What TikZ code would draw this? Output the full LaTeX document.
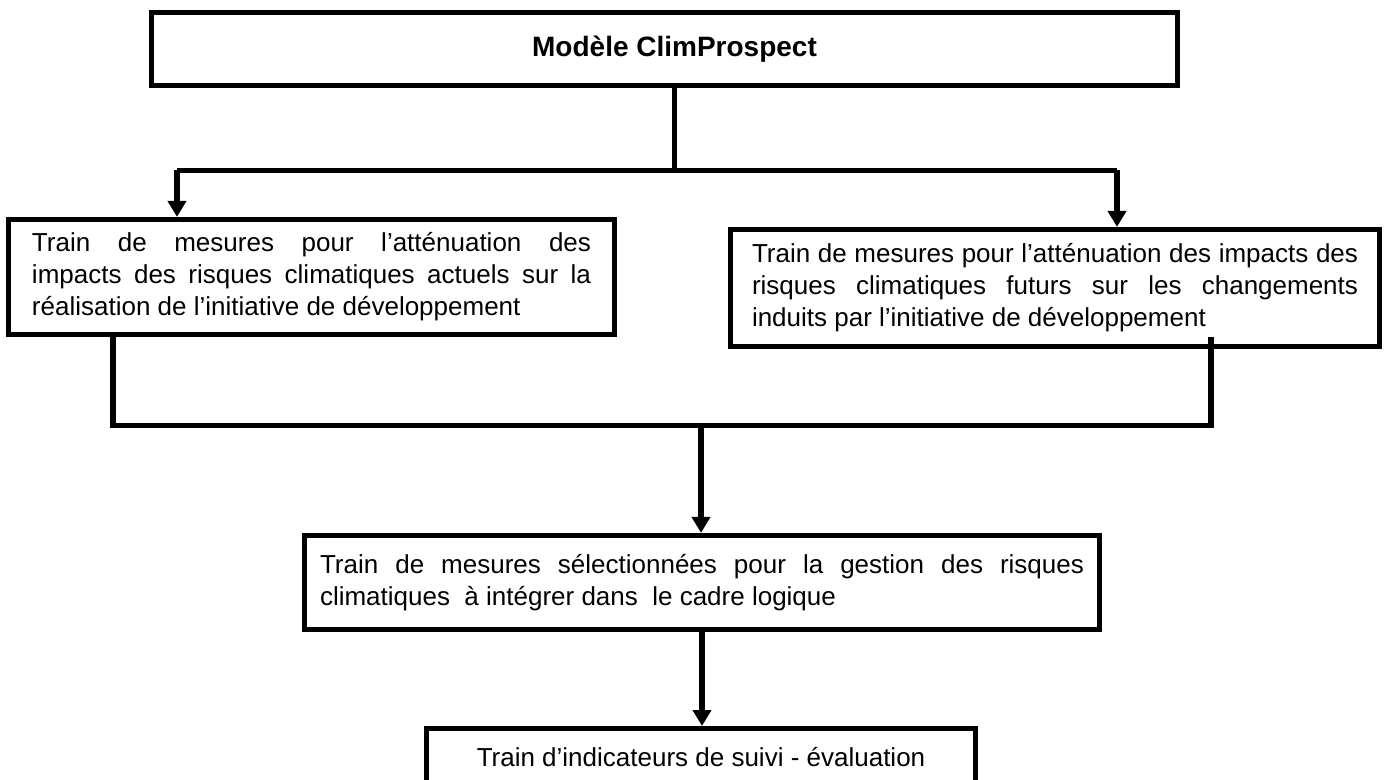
\documentclass[tikz,border=0pt]{standalone}
\usepackage{fontspec}
\setmainfont{Liberation Sans}
\usetikzlibrary{arrows.meta}
\hyphenpenalty=10000
\exhyphenpenalty=10000
\tolerance=10000
\begin{document}
\begin{tikzpicture}[x=0.5pt,y=-0.5pt,
  box/.style={draw, line width=2.6pt, rectangle, inner sep=0pt,
    font=\fontsize{13}{16}\selectfont},
  conn/.style={line width=2.6pt},
  arr/.style={line width=2.6pt, -{Triangle[length=8pt,width=9pt]}}]
\useasboundingbox (0,0) rectangle (1400,780);
\clip (0,0) rectangle (1400,780);

\node[box, minimum width=513pt, minimum height=36.5pt,
  font=\fontsize{14}{17}\selectfont\bfseries] (top) at (664.5,49)
  {\hspace*{10pt}Modèle ClimProspect};

\node[box, minimum width=303pt, minimum height=57.5pt,
  text width=279.5pt, align=justify] (left) at (311.5,277)
  {Train de mesures pour l’atténuation des\linebreak impacts des risques climatiques actuels sur la\linebreak réalisation de l’initiative de développement};

\node[box, minimum width=324.5pt, minimum height=58.5pt,
  text width=303pt, align=justify] (right) at (1055,288)
  {Train de mesures pour l’atténuation des impacts des\linebreak risques climatiques futurs sur les changements\linebreak induits par l’initiative de développement};

\node[box, minimum width=397.5pt, minimum height=47pt,
  text width=382pt, align=justify] (mid) at (702,582.5)
  {Train de mesures sélectionnées pour la gestion des risques\linebreak climatiques\ \ à intégrer dans\ \ le cadre logique};

\node[box, minimum width=274.5pt, minimum height=28pt, anchor=north,
  align=center] (bot) at (701,726)
  {Train d’indicateurs de suivi - évaluation};

% top split
\coordinate (j1) at (674.5,170.5);
\coordinate (la) at (177,170.5);
\coordinate (ra) at (1117,170.5);
\draw[conn] (top.south -| j1) -- (j1);
\draw[conn] (la) -- (ra);
\draw[arr] (la) -- (left.north -| la);
\draw[arr] (ra) -- (right.north -| ra);

% merge
\coordinate (cl) at (113,425.5);
\coordinate (cr) at (1211,425.5);
\coordinate (rin) at (1211,337);
\coordinate (cm) at (701,425.5);
\draw[conn] (left.south -| cl) -- (cl) -- (cr) -- (rin);
\draw[arr] (cm) -- (mid.north -| cm);

% bottom
\coordinate (bm) at (702,600);
\draw[arr] (mid.south -| bm) -- (bot.north -| bm);
\end{tikzpicture}
\end{document}
